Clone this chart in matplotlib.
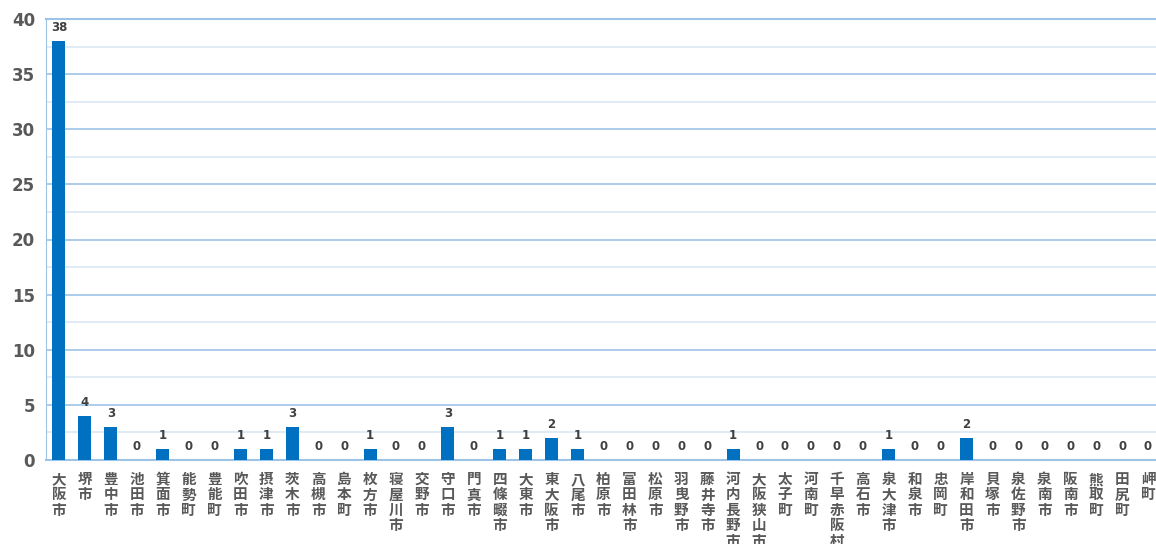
import matplotlib
matplotlib.use("Agg")
import matplotlib.pyplot as plt
from matplotlib.ticker import MultipleLocator

plt.rcParams['font.family'] = ['Noto Sans CJK JP', 'DejaVu Sans']

cities = ["大阪市", "堺市", "豊中市", "池田市", "箕面市", "能勢町", "豊能町", "吹田市",
          "摂津市", "茨木市", "高槻市", "島本町", "枚方市", "寝屋川市", "交野市", "守口市",
          "門真市", "四條畷市", "大東市", "東大阪市", "八尾市", "柏原市", "富田林市", "松原市",
          "羽曳野市", "藤井寺市", "河内長野市", "大阪狭山市", "太子町", "河南町", "千早赤阪村",
          "高石市", "泉大津市", "和泉市", "忠岡町", "岸和田市", "貝塚市", "泉佐野市", "泉南市",
          "阪南市", "熊取町", "田尻町", "岬町"]
counts = [38, 4, 3, 0, 1, 0, 0, 1, 1, 3, 0, 0, 1, 0, 0, 3, 0, 1, 1, 2, 1, 0, 0, 0,
          0, 0, 1, 0, 0, 0, 0, 0, 1, 0, 0, 2, 0, 0, 0, 0, 0, 0, 0]
y_ticks = [0, 5, 10, 15, 20, 25, 30, 35, 40]

bar_color = "#0070C0"
major_grid = "#9DC3E6"
minor_grid = "#DAE8F5"
text_gray = "#595959"

fig = plt.figure(figsize=(11.56, 5.44), dpi=100)
ax = fig.add_axes([46 / 1156, 84 / 544, 1115 / 1156, 441 / 544])

x = list(range(len(cities)))
bars = ax.bar(x, counts, width=0.5, color=bar_color, zorder=3)

for xi, v in zip(x, counts):
    ax.text(xi, v + 0.6, str(v), ha="center", va="bottom", fontsize=8.5,
            fontweight="bold", color="#404040", family="DejaVu Sans")

ax.set_xlim(-0.5, len(cities) - 0.5)
ax.set_ylim(0, 40)
ax.set_yticks(y_ticks)
ax.yaxis.set_minor_locator(MultipleLocator(2.5))
ax.set_yticklabels([str(t) for t in y_ticks], fontsize=12, fontweight="bold",
                   color=text_gray, family="DejaVu Sans")
ax.tick_params(axis="y", which="both", length=0, pad=8)
ax.grid(axis="y", which="major", color=major_grid, linewidth=1.2, zorder=0)
ax.grid(axis="y", which="minor", color=minor_grid, linewidth=1.2, zorder=0)

ax.set_xticks(x)
ax.set_xticklabels(["\n".join(c) for c in cities], fontsize=10.5, fontweight="bold",
                   color=text_gray, linespacing=0.95, va="top")
ax.tick_params(axis="x", length=0, pad=8)

for side in ["top", "right"]:
    ax.spines[side].set_visible(False)
ax.spines["left"].set_color(major_grid)
ax.spines["bottom"].set_color(major_grid)
ax.spines["bottom"].set_linewidth(1.5)
ax.axhline(40, color=major_grid, linewidth=1.5, zorder=1, clip_on=False)

fig.savefig("out.png", dpi=100)
